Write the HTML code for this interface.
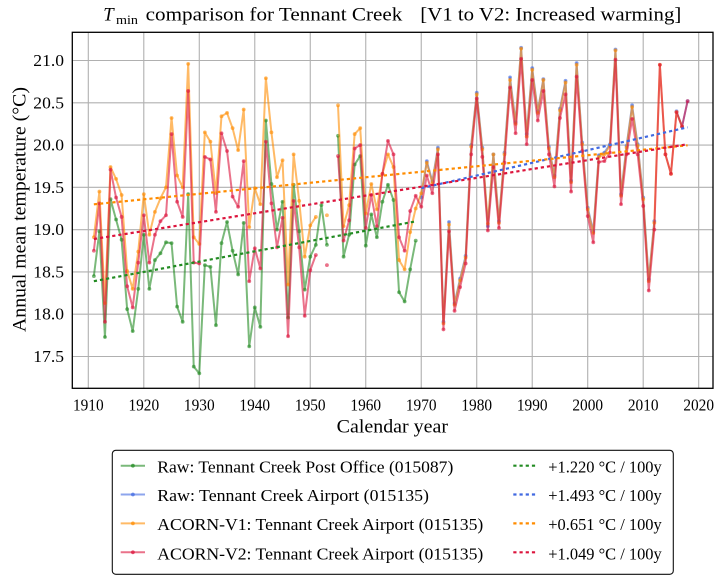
<!DOCTYPE html>
<html>
<head>
<meta charset="utf-8">
<style>
html,body{margin:0;padding:0;background:#fff;}
svg{display:block;}
text{font-family:"Liberation Serif","DejaVu Serif",serif;fill:#000;}
.ln{fill:none;stroke-width:2;stroke-opacity:0.6;stroke-linejoin:round;vector-effect:non-scaling-stroke;}
.mk{fill:none;stroke-width:3.8;stroke-opacity:0.6;stroke-linecap:round;vector-effect:non-scaling-stroke;}
.grid line{stroke:#b0b0b0;stroke-width:1.1;}
.tr{stroke-width:2.2;stroke-dasharray:3.2 3;fill:none;}
</style>
</head>
<body>
<svg width="726" height="584" viewBox="0 0 726 584" xmlns="http://www.w3.org/2000/svg">
<rect x="0" y="0" width="726" height="584" fill="#fff"/>

<!-- Title -->
<text x="103.3" y="20.7" font-size="18.7" font-style="italic">T</text>
<text x="116" y="24.2" font-size="13" textLength="22" lengthAdjust="spacingAndGlyphs">min</text>
<text x="145.7" y="20.7" font-size="18.7" textLength="256.6" lengthAdjust="spacingAndGlyphs">comparison for Tennant Creek</text>
<text x="420.3" y="20.7" font-size="18.7" textLength="261" lengthAdjust="spacingAndGlyphs">[V1 to V2: Increased warming]</text>

<!-- Grid -->
<g class="grid">
<line x1="88.3" y1="32.3" x2="88.3" y2="388.3"/>
<line x1="143.79" y1="32.3" x2="143.79" y2="388.3"/>
<line x1="199.28" y1="32.3" x2="199.28" y2="388.3"/>
<line x1="254.77" y1="32.3" x2="254.77" y2="388.3"/>
<line x1="310.26" y1="32.3" x2="310.26" y2="388.3"/>
<line x1="365.75" y1="32.3" x2="365.75" y2="388.3"/>
<line x1="421.24" y1="32.3" x2="421.24" y2="388.3"/>
<line x1="476.73" y1="32.3" x2="476.73" y2="388.3"/>
<line x1="532.22" y1="32.3" x2="532.22" y2="388.3"/>
<line x1="587.71" y1="32.3" x2="587.71" y2="388.3"/>
<line x1="643.2" y1="32.3" x2="643.2" y2="388.3"/>
<line x1="698.69" y1="32.3" x2="698.69" y2="388.3"/>
<line x1="72.3" y1="60.5" x2="713" y2="60.5"/>
<line x1="72.3" y1="102.79" x2="713" y2="102.79"/>
<line x1="72.3" y1="145.07" x2="713" y2="145.07"/>
<line x1="72.3" y1="187.36" x2="713" y2="187.36"/>
<line x1="72.3" y1="229.64" x2="713" y2="229.64"/>
<line x1="72.3" y1="271.93" x2="713" y2="271.93"/>
<line x1="72.3" y1="314.21" x2="713" y2="314.21"/>
<line x1="72.3" y1="356.5" x2="713" y2="356.5"/>
</g>

<!-- Data series in data coordinates -->
<g transform="matrix(5.549 0 0 -84.57 -10510.29 1836.47)">
<!-- Green: Raw Post Office -->
<path class="ln" stroke="#228B22" d="M1911 18.45 1912 18.98 1913 17.73 1914 19.36 1915 19.12 1916 18.88 1917 18.06 1918 17.80 1919 18.30 1920 18.94 1921 18.30 1922 18.64 1923 18.72 1924 18.85 1925 18.84 1926 18.09 1927 17.91 1928 19.42 1929 17.38 1930 17.30 1931 18.58 1932 18.56 1933 17.87 1934 18.84 1935 19.09 1936 18.75 1937 18.47 1938 19.08 1939 17.62 1940 18.08 1941 17.85 1942 20.29 1943 19.54 1944 19.00 1945 19.33 1946 17.96 1947 19.53 1948 18.98 1949 18.29 1950 18.68 1951 18.82 1952 19.29 1953 18.82 M1955 20.11 1956 18.68 1957 18.94 1958 19.77 1959 19.87 1960 18.81 1961 19.18 1962 18.91 1963 19.33 1964 19.53 1965 19.35 1966 18.26 1967 18.15 1968 18.53 1969 18.87"/>
<path class="mk" stroke="#228B22" d="M1911 18.45h0.01M1912 18.98h0.01M1913 17.73h0.01M1914 19.36h0.01M1915 19.12h0.01M1916 18.88h0.01M1917 18.06h0.01M1918 17.80h0.01M1919 18.30h0.01M1920 18.94h0.01M1921 18.30h0.01M1922 18.64h0.01M1923 18.72h0.01M1924 18.85h0.01M1925 18.84h0.01M1926 18.09h0.01M1927 17.91h0.01M1928 19.42h0.01M1929 17.38h0.01M1930 17.30h0.01M1931 18.58h0.01M1932 18.56h0.01M1933 17.87h0.01M1934 18.84h0.01M1935 19.09h0.01M1936 18.75h0.01M1937 18.47h0.01M1938 19.08h0.01M1939 17.62h0.01M1940 18.08h0.01M1941 17.85h0.01M1942 20.29h0.01M1943 19.54h0.01M1944 19.00h0.01M1945 19.33h0.01M1946 17.96h0.01M1947 19.53h0.01M1948 18.98h0.01M1949 18.29h0.01M1950 18.68h0.01M1951 18.82h0.01M1952 19.29h0.01M1953 18.82h0.01M1955 20.11h0.01M1956 18.68h0.01M1957 18.94h0.01M1958 19.77h0.01M1959 19.87h0.01M1960 18.81h0.01M1961 19.18h0.01M1962 18.91h0.01M1963 19.33h0.01M1964 19.53h0.01M1965 19.35h0.01M1966 18.26h0.01M1967 18.15h0.01M1968 18.53h0.01M1969 18.87h0.01"/>

<!-- Blue: Raw Airport -->
<path class="ln" stroke="#4169E1" d="M1970 19.38 1971 19.81 1972 19.57 1973 19.97 1974 17.91 1975 19.09 1976 18.13 1977 18.42 1978 18.69 1979 20.00 1980 20.62 1981 19.97 1982 19.04 1983 19.89 1984 19.10 1985 19.91 1986 20.80 1987 20.27 1988 21.15 1989 20.13 1990 20.91 1991 20.40 1992 20.78 1993 19.98 1994 19.64 1995 20.43 1996 20.76 1997 19.58 1998 20.97 1999 20.03 2000 19.26 2001 18.98 2002 19.88 2003 19.91 2004 20.01 2005 21.13 2006 19.42 2007 19.99 2008 20.47 2009 20.01 2010 19.38 2011 18.41 2012 19.10 M2016 20.40 2017 20.22 2018 20.52"/>
<path class="mk" stroke="#4169E1" d="M1970 19.38h0.01M1971 19.81h0.01M1972 19.57h0.01M1973 19.97h0.01M1974 17.91h0.01M1975 19.09h0.01M1976 18.13h0.01M1977 18.42h0.01M1978 18.69h0.01M1979 20.00h0.01M1980 20.62h0.01M1981 19.97h0.01M1982 19.04h0.01M1983 19.89h0.01M1984 19.10h0.01M1985 19.91h0.01M1986 20.80h0.01M1987 20.27h0.01M1988 21.15h0.01M1989 20.13h0.01M1990 20.91h0.01M1991 20.40h0.01M1992 20.78h0.01M1993 19.98h0.01M1994 19.64h0.01M1995 20.43h0.01M1996 20.76h0.01M1997 19.58h0.01M1998 20.97h0.01M1999 20.03h0.01M2000 19.26h0.01M2001 18.98h0.01M2002 19.88h0.01M2003 19.91h0.01M2004 20.01h0.01M2005 21.13h0.01M2006 19.42h0.01M2007 19.99h0.01M2008 20.47h0.01M2009 20.01h0.01M2010 19.38h0.01M2011 18.41h0.01M2012 19.10h0.01M2016 20.40h0.01M2017 20.22h0.01M2018 20.52h0.01"/>

<!-- Orange: ACORN-V1 -->
<path class="ln" stroke="#FF8C00" d="M1911 18.91 1912 19.45 1913 18.13 1914 19.74 1915 19.60 1916 19.41 1917 18.51 1918 18.30 1919 18.74 1920 19.42 1921 18.94 1922 19.21 1923 19.37 1924 19.50 1925 20.32 1926 19.64 1927 19.50 1928 20.96 1929 18.91 1930 18.83 1931 20.15 1932 20.04 1933 19.43 1934 20.34 1935 20.38 1936 20.20 1937 19.94 1938 20.42 1939 19.03 1940 19.49 1941 19.30 1942 20.79 1943 20.15 1944 19.62 1945 19.82 1946 18.35 1947 19.89 1948 19.34 1949 18.68 1950 19.05 1951 19.15 M1955 20.47 1956 19.04 1957 19.29 1958 20.13 1959 20.20 1960 19.19 1961 19.54 1962 19.24 1963 19.66 1964 19.89 1965 19.74 1966 18.64 1967 18.53 1968 18.97 1969 19.25 1970 19.43 1971 19.79 1972 19.55 1973 19.95 1974 17.89 1975 19.06 1976 18.11 1977 18.40 1978 18.67 1979 19.98 1980 20.60 1981 19.95 1982 19.07 1983 19.89 1984 19.08 1985 19.89 1986 20.77 1987 20.25 1988 21.14 1989 20.10 1990 20.89 1991 20.38 1992 20.77 1993 19.96 1994 19.62 1995 20.41 1996 20.74 1997 19.56 1998 20.95 1999 20.01 2000 19.24 2001 18.96 2002 19.86 2003 19.89 2004 19.99 2005 21.12 2006 19.40 2007 19.97 2008 20.45 2009 19.99 2010 19.36 2011 18.39 2012 19.08 2013 20.95 2014 19.89 2015 19.66 2016 20.39 2017 20.22"/>
<path class="mk" stroke="#FF8C00" d="M1911 18.91h0.01M1912 19.45h0.01M1913 18.13h0.01M1914 19.74h0.01M1915 19.60h0.01M1916 19.41h0.01M1917 18.51h0.01M1918 18.30h0.01M1919 18.74h0.01M1920 19.42h0.01M1921 18.94h0.01M1922 19.21h0.01M1923 19.37h0.01M1924 19.50h0.01M1925 20.32h0.01M1926 19.64h0.01M1927 19.50h0.01M1928 20.96h0.01M1929 18.91h0.01M1930 18.83h0.01M1931 20.15h0.01M1932 20.04h0.01M1933 19.43h0.01M1934 20.34h0.01M1935 20.38h0.01M1936 20.20h0.01M1937 19.94h0.01M1938 20.42h0.01M1939 19.03h0.01M1940 19.49h0.01M1941 19.30h0.01M1942 20.79h0.01M1943 20.15h0.01M1944 19.62h0.01M1945 19.82h0.01M1946 18.35h0.01M1947 19.89h0.01M1948 19.34h0.01M1949 18.68h0.01M1950 19.05h0.01M1951 19.15h0.01M1953 19.17h0.01M1955 20.47h0.01M1956 19.04h0.01M1957 19.29h0.01M1958 20.13h0.01M1959 20.20h0.01M1960 19.19h0.01M1961 19.54h0.01M1962 19.24h0.01M1963 19.66h0.01M1964 19.89h0.01M1965 19.74h0.01M1966 18.64h0.01M1967 18.53h0.01M1968 18.97h0.01M1969 19.25h0.01M1970 19.43h0.01M1971 19.79h0.01M1972 19.55h0.01M1973 19.95h0.01M1974 17.89h0.01M1975 19.06h0.01M1976 18.11h0.01M1977 18.40h0.01M1978 18.67h0.01M1979 19.98h0.01M1980 20.60h0.01M1981 19.95h0.01M1982 19.07h0.01M1983 19.89h0.01M1984 19.08h0.01M1985 19.89h0.01M1986 20.77h0.01M1987 20.25h0.01M1988 21.14h0.01M1989 20.10h0.01M1990 20.89h0.01M1991 20.38h0.01M1992 20.77h0.01M1993 19.96h0.01M1994 19.62h0.01M1995 20.41h0.01M1996 20.74h0.01M1997 19.56h0.01M1998 20.95h0.01M1999 20.01h0.01M2000 19.24h0.01M2001 18.96h0.01M2002 19.86h0.01M2003 19.89h0.01M2004 19.99h0.01M2005 21.12h0.01M2006 19.40h0.01M2007 19.97h0.01M2008 20.45h0.01M2009 19.99h0.01M2010 19.36h0.01M2011 18.39h0.01M2012 19.08h0.01M2013 20.95h0.01M2014 19.89h0.01M2015 19.66h0.01M2016 20.39h0.01M2017 20.22h0.01"/>

<!-- Red: ACORN-V2 -->
<path class="ln" stroke="#DC143C" d="M1911 18.75 1912 19.31 1913 17.91 1914 19.71 1915 19.38 1916 19.15 1917 18.33 1918 18.08 1919 18.61 1920 19.17 1921 18.61 1922 18.94 1923 19.10 1924 19.17 1925 20.13 1926 19.33 1927 19.15 1928 20.64 1929 18.61 1930 18.60 1931 19.86 1932 19.83 1933 19.21 1934 20.14 1935 19.93 1936 19.39 1937 19.27 1938 19.81 1939 18.39 1940 18.78 1941 18.54 1942 20.04 1943 19.31 1944 18.79 1945 19.14 1946 17.74 1947 19.34 1948 18.79 1949 17.98 1950 18.52 1951 18.70 M1955 19.87 1956 18.87 1957 19.11 1958 19.96 1959 20.00 1960 19.02 1961 19.41 1962 19.04 1963 19.66 1964 20.05 1965 19.89 1966 18.91 1967 18.75 1968 19.22 1969 19.40 1970 19.27 1971 19.64 1972 19.43 1973 19.89 1974 17.82 1975 18.98 1976 18.04 1977 18.32 1978 18.60 1979 19.89 1980 20.55 1981 19.86 1982 18.99 1983 19.74 1984 19.02 1985 19.79 1986 20.68 1987 20.14 1988 21.02 1989 20.01 1990 20.77 1991 20.29 1992 20.64 1993 19.89 1994 19.51 1995 20.32 1996 20.60 1997 19.45 1998 20.81 1999 19.93 2000 19.16 2001 18.85 2002 19.80 2003 19.81 2004 19.91 2005 21.01 2006 19.30 2007 19.89 2008 20.31 2009 19.89 2010 19.28 2011 18.28 2012 19.00 2013 20.95 2014 19.89 2015 19.66 2016 20.39 2017 20.22 2018 20.52"/>
<path class="mk" stroke="#DC143C" d="M1911 18.75h0.01M1912 19.31h0.01M1913 17.91h0.01M1914 19.71h0.01M1915 19.38h0.01M1916 19.15h0.01M1917 18.33h0.01M1918 18.08h0.01M1919 18.61h0.01M1920 19.17h0.01M1921 18.61h0.01M1922 18.94h0.01M1923 19.10h0.01M1924 19.17h0.01M1925 20.13h0.01M1926 19.33h0.01M1927 19.15h0.01M1928 20.64h0.01M1929 18.61h0.01M1930 18.60h0.01M1931 19.86h0.01M1932 19.83h0.01M1933 19.21h0.01M1934 20.14h0.01M1935 19.93h0.01M1936 19.39h0.01M1937 19.27h0.01M1938 19.81h0.01M1939 18.39h0.01M1940 18.78h0.01M1941 18.54h0.01M1942 20.04h0.01M1943 19.31h0.01M1944 18.79h0.01M1945 19.14h0.01M1946 17.74h0.01M1947 19.34h0.01M1948 18.79h0.01M1949 17.98h0.01M1950 18.52h0.01M1951 18.70h0.01M1953 18.58h0.01M1955 19.87h0.01M1956 18.87h0.01M1957 19.11h0.01M1958 19.96h0.01M1959 20.00h0.01M1960 19.02h0.01M1961 19.41h0.01M1962 19.04h0.01M1963 19.66h0.01M1964 20.05h0.01M1965 19.89h0.01M1966 18.91h0.01M1967 18.75h0.01M1968 19.22h0.01M1969 19.40h0.01M1970 19.27h0.01M1971 19.64h0.01M1972 19.43h0.01M1973 19.89h0.01M1974 17.82h0.01M1975 18.98h0.01M1976 18.04h0.01M1977 18.32h0.01M1978 18.60h0.01M1979 19.89h0.01M1980 20.55h0.01M1981 19.86h0.01M1982 18.99h0.01M1983 19.74h0.01M1984 19.02h0.01M1985 19.79h0.01M1986 20.68h0.01M1987 20.14h0.01M1988 21.02h0.01M1989 20.01h0.01M1990 20.77h0.01M1991 20.29h0.01M1992 20.64h0.01M1993 19.89h0.01M1994 19.51h0.01M1995 20.32h0.01M1996 20.60h0.01M1997 19.45h0.01M1998 20.81h0.01M1999 19.93h0.01M2000 19.16h0.01M2001 18.85h0.01M2002 19.80h0.01M2003 19.81h0.01M2004 19.91h0.01M2005 21.01h0.01M2006 19.30h0.01M2007 19.89h0.01M2008 20.31h0.01M2009 19.89h0.01M2010 19.28h0.01M2011 18.28h0.01M2012 19.00h0.01M2013 20.95h0.01M2014 19.89h0.01M2015 19.66h0.01M2016 20.39h0.01M2017 20.22h0.01M2018 20.52h0.01"/>
</g>

<!-- Trend lines (pixel coords) -->
<line class="tr" stroke="#228B22" x1="93.85" y1="281.2" x2="415.7" y2="221.4"/>
<line class="tr" stroke="#4169E1" x1="421.24" y1="188.2" x2="687.6" y2="127.3"/>
<line class="tr" stroke="#FF8C00" x1="93.85" y1="204.3" x2="687.6" y2="145.3"/>
<line class="tr" stroke="#DC143C" x1="93.85" y1="239.0" x2="687.6" y2="144.2"/>

<!-- Axes frame -->
<rect x="72.3" y="32.3" width="640.7" height="356" fill="none" stroke="#000" stroke-width="1.3"/>

<!-- Y tick labels -->
<g font-size="17" text-anchor="end">
<text x="64" y="66" textLength="30.7" lengthAdjust="spacingAndGlyphs">21.0</text>
<text x="64" y="108.3" textLength="30.7" lengthAdjust="spacingAndGlyphs">20.5</text>
<text x="64" y="150.6" textLength="30.7" lengthAdjust="spacingAndGlyphs">20.0</text>
<text x="64" y="192.9" textLength="30.7" lengthAdjust="spacingAndGlyphs">19.5</text>
<text x="64" y="235.1" textLength="30.7" lengthAdjust="spacingAndGlyphs">19.0</text>
<text x="64" y="277.4" textLength="30.7" lengthAdjust="spacingAndGlyphs">18.5</text>
<text x="64" y="319.7" textLength="30.7" lengthAdjust="spacingAndGlyphs">18.0</text>
<text x="64" y="362" textLength="30.7" lengthAdjust="spacingAndGlyphs">17.5</text>
</g>

<!-- X tick labels -->
<g font-size="17" text-anchor="middle">
<text x="88.3" y="410.7" textLength="30.7" lengthAdjust="spacingAndGlyphs">1910</text>
<text x="143.79" y="410.7" textLength="30.7" lengthAdjust="spacingAndGlyphs">1920</text>
<text x="199.28" y="410.7" textLength="30.7" lengthAdjust="spacingAndGlyphs">1930</text>
<text x="254.77" y="410.7" textLength="30.7" lengthAdjust="spacingAndGlyphs">1940</text>
<text x="310.26" y="410.7" textLength="30.7" lengthAdjust="spacingAndGlyphs">1950</text>
<text x="365.75" y="410.7" textLength="30.7" lengthAdjust="spacingAndGlyphs">1960</text>
<text x="421.24" y="410.7" textLength="30.7" lengthAdjust="spacingAndGlyphs">1970</text>
<text x="476.73" y="410.7" textLength="30.7" lengthAdjust="spacingAndGlyphs">1980</text>
<text x="532.22" y="410.7" textLength="30.7" lengthAdjust="spacingAndGlyphs">1990</text>
<text x="587.71" y="410.7" textLength="30.7" lengthAdjust="spacingAndGlyphs">2000</text>
<text x="643.2" y="410.7" textLength="30.7" lengthAdjust="spacingAndGlyphs">2010</text>
<text x="698.69" y="410.7" textLength="30.7" lengthAdjust="spacingAndGlyphs">2020</text>
</g>

<!-- Axis labels -->
<text x="336.7" y="432.5" font-size="18.5" textLength="111.3" lengthAdjust="spacingAndGlyphs">Calendar year</text>
<text transform="translate(25.5,332) rotate(-90)" x="0" y="0" font-size="18.5" textLength="245" lengthAdjust="spacingAndGlyphs">Annual mean temperature (°C)</text>

<!-- Legend -->
<rect x="112.3" y="450.3" width="561" height="124" rx="3.5" ry="3.5" fill="#fff" stroke="#111" stroke-width="1.1"/>
<g>
<line x1="120.7" y1="465.7" x2="145" y2="465.7" stroke="#228B22" stroke-opacity="0.6" stroke-width="2"/>
<circle cx="132.9" cy="465.7" r="1.9" fill="#228B22" fill-opacity="0.75"/>
<line x1="120.7" y1="494.5" x2="145" y2="494.5" stroke="#4169E1" stroke-opacity="0.6" stroke-width="2"/>
<circle cx="132.9" cy="494.5" r="1.9" fill="#4169E1" fill-opacity="0.75"/>
<line x1="120.7" y1="523.4" x2="145" y2="523.4" stroke="#FF8C00" stroke-opacity="0.6" stroke-width="2"/>
<circle cx="132.9" cy="523.4" r="1.9" fill="#FF8C00" fill-opacity="0.75"/>
<line x1="120.7" y1="552.3" x2="145" y2="552.3" stroke="#DC143C" stroke-opacity="0.6" stroke-width="2"/>
<circle cx="132.9" cy="552.3" r="1.9" fill="#DC143C" fill-opacity="0.75"/>
</g>
<g font-size="17.2">
<text x="157.3" y="472.3" textLength="296" lengthAdjust="spacingAndGlyphs">Raw: Tennant Creek Post Office (015087)</text>
<text x="157.3" y="501.2" textLength="271.7" lengthAdjust="spacingAndGlyphs">Raw: Tennant Creek Airport (015135)</text>
<text x="157.3" y="530.1" textLength="326" lengthAdjust="spacingAndGlyphs">ACORN-V1: Tennant Creek Airport (015135)</text>
<text x="157.3" y="559.3" textLength="326" lengthAdjust="spacingAndGlyphs">ACORN-V2: Tennant Creek Airport (015135)</text>
</g>
<g>
<line class="tr" stroke="#228B22" x1="513.3" y1="465.7" x2="535.5" y2="465.7"/>
<line class="tr" stroke="#4169E1" x1="513.3" y1="494.5" x2="535.5" y2="494.5"/>
<line class="tr" stroke="#FF8C00" x1="513.3" y1="523.4" x2="535.5" y2="523.4"/>
<line class="tr" stroke="#DC143C" x1="513.3" y1="552.3" x2="535.5" y2="552.3"/>
</g>
<g font-size="17.2" xml:space="preserve">
<text x="548.3" y="472.3" textLength="113.4" lengthAdjust="spacingAndGlyphs">+1.220 °C / 100y</text>
<text x="548.3" y="501.2" textLength="113.4" lengthAdjust="spacingAndGlyphs">+1.493 °C / 100y</text>
<text x="548.3" y="530.1" textLength="113.4" lengthAdjust="spacingAndGlyphs">+0.651 °C / 100y</text>
<text x="548.3" y="559.3" textLength="113.4" lengthAdjust="spacingAndGlyphs">+1.049 °C / 100y</text>
</g>
</svg>
</body>
</html>
